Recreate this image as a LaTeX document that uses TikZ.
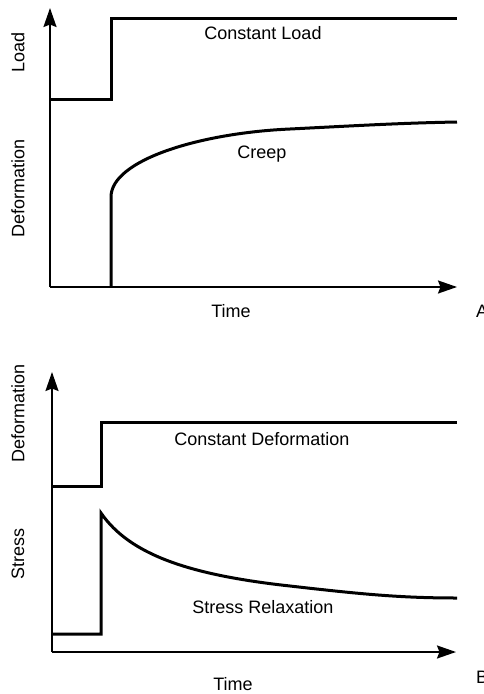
\documentclass[tikz,border=0pt]{standalone}
\usepackage{fontspec}
\setmainfont{Liberation Sans}
\usetikzlibrary{arrows.meta}
\begin{document}
\begin{tikzpicture}[x=1pt,y=-1pt,
  axis/.style={line width=2pt,-{Stealth[length=19pt,width=13pt,inset=2.5pt]}},
  curve/.style={line width=3pt,line join=miter},
  lbl/.style={font=\fontsize{18}{20}\selectfont,inner sep=0pt},
  ylbl/.style={lbl,rotate=90,anchor=center}]
\useasboundingbox (0,0) rectangle (483,694);
% ---------- Panel A ----------
\coordinate (oA) at (50,287);
\coordinate (yA) at (50,8);
\coordinate (xA) at (457,287);
\draw[axis] (oA) -- (yA);
\draw[axis] (oA) -- (xA);
\draw[curve] (50,99) -- (111,99) -- (111,18) -- (457,18);
\draw[curve] (111,287) -- (111,197) .. controls (111,160) and (200,133) .. (290,129)
  .. controls (350,126) and (400,123) .. (457,122);
\node[ylbl] (load) at (18,52) {Load};
\node[ylbl] (defA) at (18,188) {Deformation};
\node[lbl,anchor=base] (cload) at (263,39) {Constant Load};
\node[lbl,anchor=base] (creep) at (262,158) {Creep};
\node[lbl,anchor=base] (timeA) at (231,317) {Time};
\node[lbl,anchor=base west] (A) at (476,317) {A};
% ---------- Panel B ----------
\coordinate (oB) at (52,652);
\coordinate (yB) at (52,372);
\coordinate (xB) at (456,652);
\draw[axis] (oB) -- (yB);
\draw[axis] (oB) -- (xB);
\draw[curve] (52,486) -- (101,486) -- (101,422) -- (457,422);
\draw[curve] (53,634) -- (101,634) -- (101,513) .. controls (130,555) and (190,575) .. (290,586)
  .. controls (360,594) and (400,598) .. (457,598);
\node[ylbl] (defB) at (18,413) {Deformation};
\node[ylbl] (stress) at (18,554) {Stress};
\node[lbl,anchor=base] (cdef) at (262,445) {Constant Deformation};
\node[lbl,anchor=base] (relax) at (263,613) {Stress Relaxation};
\node[lbl,anchor=base] (timeB) at (233,690) {Time};
\node[lbl,anchor=base west] (B) at (476,683) {B};
\end{tikzpicture}
\end{document}
